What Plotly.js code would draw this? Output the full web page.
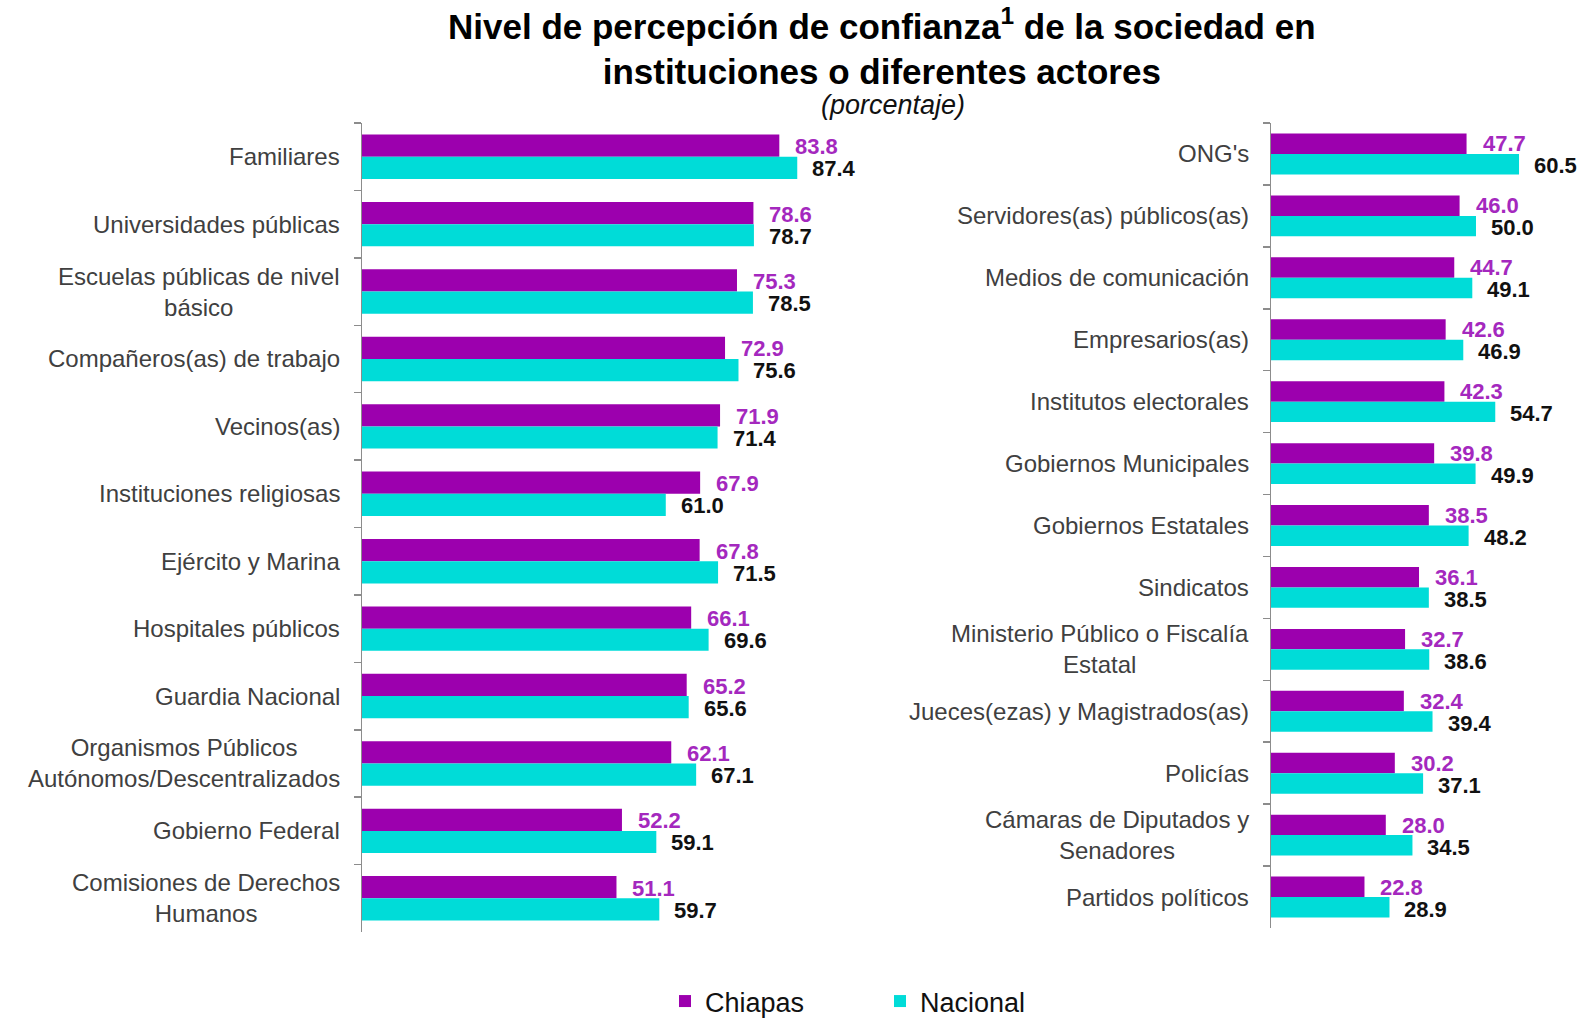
<!DOCTYPE html>
<html>
<head>
<meta charset="utf-8">
<script src="https://cdn.plot.ly/plotly-3.0.1.min.js"></script>
<style>html,body{margin:0;padding:0;background:#fff;}#chart{width:1583px;height:1026px;}</style>
</head>
<body>
<div id="chart"></div>
<script>
// ---- Data ----
const leftCategories = [
  "Familiares",
  "Universidades públicas",
  "Escuelas públicas de nivel<br>básico",
  "Compañeros(as) de trabajo",
  "Vecinos(as)",
  "Instituciones religiosas",
  "Ejército y Marina",
  "Hospitales públicos",
  "Guardia Nacional",
  "Organismos Públicos<br>Autónomos/Descentralizados",
  "Gobierno Federal",
  "Comisiones de Derechos<br>Humanos"
];
const leftChiapas  = [83.8, 78.6, 75.3, 72.9, 71.9, 67.9, 67.8, 66.1, 65.2, 62.1, 52.2, 51.1];
const leftNacional = [87.4, 78.7, 78.5, 75.6, 71.4, 61.0, 71.5, 69.6, 65.6, 67.1, 59.1, 59.7];

const rightCategories = [
  "ONG's",
  "Servidores(as) públicos(as)",
  "Medios de comunicación",
  "Empresarios(as)",
  "Institutos electorales",
  "Gobiernos Municipales",
  "Gobiernos Estatales",
  "Sindicatos",
  "Ministerio Público o Fiscalía<br>Estatal",
  "Jueces(ezas) y Magistrados(as)",
  "Policías",
  "Cámaras de Diputados y<br>Senadores",
  "Partidos políticos"
];
const rightChiapas  = [47.7, 46.0, 44.7, 42.6, 42.3, 39.8, 38.5, 36.1, 32.7, 32.4, 30.2, 28.0, 22.8];
const rightNacional = [60.5, 50.0, 49.1, 46.9, 54.7, 49.9, 48.2, 38.5, 38.6, 39.4, 37.1, 34.5, 28.9];

const seriesNames = ["Chiapas", "Nacional"];
const titleText = "<b>Nivel de percepción de confianza<sup>1</sup> de la sociedad en<br>instituciones o diferentes actores</b>";
const subtitleText = "<i>(porcentaje)</i>";

// ---- Styles ----
const PURPLE = "#9C00AE";
const CYAN = "#00DCD8";
const PURPLE_TXT = "#A428BE";
const FONT = "Liberation Sans, Arial, sans-serif";

const W = 1583, H = 1026;

function bar(name, cats, vals, color, xa, ya, showleg) {
  return {
    type: "bar", orientation: "h", name: name,
    x: vals, y: cats, xaxis: xa, yaxis: ya,
    marker: {color: color, line: {width: 0}},
    showlegend: showleg, hoverinfo: "x+y"
  };
}

const data = [
  bar(seriesNames[0], leftCategories, leftChiapas, PURPLE, "x", "y", true),
  bar(seriesNames[1], leftCategories, leftNacional, CYAN, "x", "y", true),
  bar(seriesNames[0], rightCategories, rightChiapas, PURPLE, "x2", "y2", false),
  bar(seriesNames[1], rightCategories, rightNacional, CYAN, "x2", "y2", false)
];

const annotations = [];
function addPanel(cats, chi, nac, xr, yr) {
  cats.forEach((c, i) => {
    annotations.push({
      xref: xr, yref: yr, x: 0, y: c, text: c, showarrow: false,
      xanchor: "right", yanchor: "middle", xshift: -20, align: "center",
      font: {family: FONT, size: 24, color: "#404040"}
    });
    annotations.push({
      xref: xr, yref: yr, x: chi[i], y: c, text: chi[i].toFixed(1), showarrow: false,
      xanchor: "left", yanchor: "middle", xshift: 14, yshift: 10,
      font: {family: FONT, size: 22, color: PURPLE_TXT, weight: "bold"}
    });
    annotations.push({
      xref: xr, yref: yr, x: nac[i], y: c, text: nac[i].toFixed(1), showarrow: false,
      xanchor: "left", yanchor: "middle", xshift: 13, yshift: -12,
      font: {family: FONT, size: 22, color: "#111111", weight: "bold"}
    });
  });
}
addPanel(leftCategories, leftChiapas, leftNacional, "x", "y");
addPanel(rightCategories, rightChiapas, rightNacional, "x2", "y2");

annotations.push({
  xref: "paper", yref: "paper", x: 882 / W, y: 1, text: titleText,
  showarrow: false, xanchor: "center", yanchor: "top", align: "center",
  font: {family: FONT, size: 35, color: "#000000"}
});
annotations.push({
  xref: "paper", yref: "paper", x: 893 / W, y: 1 - 105 / H, text: subtitleText,
  showarrow: false, xanchor: "center", yanchor: "middle",
  font: {family: FONT, size: 27, color: "#111111"}
});

const yax = {
  type: "category", autorange: "reversed", showline: true, linecolor: "#8c8c8c", linewidth: 1.5,
  ticks: "outside", tickson: "boundaries", ticklen: 7, tickcolor: "#8c8c8c", tickwidth: 1.5,
  showticklabels: false, showgrid: false, zeroline: false, fixedrange: true
};
const xax = {showline: false, showgrid: false, zeroline: false, showticklabels: false, ticks: "", fixedrange: true};

const layout = {
  width: W, height: H,
  margin: {l: 0, r: 0, t: 0, b: 0},
  paper_bgcolor: "#ffffff", plot_bgcolor: "rgba(0,0,0,0)",
  font: {family: FONT},
  barmode: "group", bargap: 0.34, bargroupgap: 0,
  xaxis: Object.assign({}, xax, {domain: [362 / W, 860 / W], range: [0, 100]}),
  yaxis: Object.assign({}, yax, {domain: [1 - 932 / H, 1 - 123 / H], anchor: "x"}),
  xaxis2: Object.assign({}, xax, {domain: [1271 / W, 1], range: [0, 76.1], anchor: "y2"}),
  yaxis2: Object.assign({}, yax, {domain: [1 - 928 / H, 1 - 123 / H], anchor: "x2"}),
  legend: {
    orientation: "h", x: 665 / W, xanchor: "left", y: 0, yanchor: "bottom",
    font: {family: FONT, size: 27, color: "#111111"},
    entrywidth: 170, entrywidthmode: "pixels", bgcolor: "rgba(0,0,0,0)", traceorder: "normal"
  },
  annotations: annotations,
  showlegend: true
};

Plotly.newPlot("chart", data, layout, {displayModeBar: false, staticPlot: true});
</script>
</body>
</html>
